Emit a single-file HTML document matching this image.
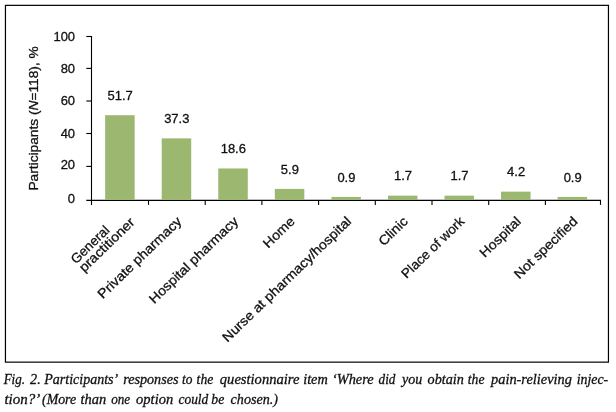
<!DOCTYPE html>
<html><head><meta charset="utf-8"><title>Fig. 2</title>
<style>
html,body{margin:0;padding:0;background:#fff;}
body{width:616px;height:412px;overflow:hidden;position:relative;}
svg{position:absolute;left:0;top:0;}
svg text{font-family:"Liberation Sans",sans-serif;fill:#111;stroke:#111;stroke-width:0.3;}
svg text.c{font-family:"Liberation Serif",serif;font-style:italic;font-size:14px;fill:#111;stroke-width:0.3;}
</style></head><body>
<svg width="616" height="412" viewBox="0 0 616 412">
<rect x="5.45" y="5.35" width="603.0" height="356.8" fill="none" stroke="#000" stroke-width="1.2"/>

<path d="M91.5 36V204.9M86.3 200.4H601" fill="none" stroke="#000" stroke-width="1.1"/>
<path d="M86.3 166.4H91.5" stroke="#000" stroke-width="1.1"/>
<path d="M86.3 133.5H91.5" stroke="#000" stroke-width="1.1"/>
<path d="M86.3 101H91.5" stroke="#000" stroke-width="1.1"/>
<path d="M86.3 68.4H91.5" stroke="#000" stroke-width="1.1"/>
<path d="M86.3 36.5H91.5" stroke="#000" stroke-width="1.1"/>
<text x="67.87" y="202.70" font-size="13.2" textLength="7.23" lengthAdjust="spacingAndGlyphs">0</text>
<text x="60.66" y="169.30" font-size="13.2" textLength="14.44" lengthAdjust="spacingAndGlyphs">20</text>
<text x="60.66" y="137.60" font-size="13.2" textLength="14.44" lengthAdjust="spacingAndGlyphs">40</text>
<text x="60.66" y="105.20" font-size="13.2" textLength="14.44" lengthAdjust="spacingAndGlyphs">60</text>
<text x="60.66" y="73.40" font-size="13.2" textLength="14.44" lengthAdjust="spacingAndGlyphs">80</text>
<text x="53.45" y="41.40" font-size="13.2" textLength="21.65" lengthAdjust="spacingAndGlyphs">100</text>
<path d="M148.50 200.4V204.9" stroke="#000" stroke-width="1.1"/>
<path d="M205.20 200.4V204.9" stroke="#000" stroke-width="1.1"/>
<path d="M261.90 200.4V204.9" stroke="#000" stroke-width="1.1"/>
<path d="M318.60 200.4V204.9" stroke="#000" stroke-width="1.1"/>
<path d="M375.30 200.4V204.9" stroke="#000" stroke-width="1.1"/>
<path d="M432.00 200.4V204.9" stroke="#000" stroke-width="1.1"/>
<path d="M488.70 200.4V204.9" stroke="#000" stroke-width="1.1"/>
<path d="M545.40 200.4V204.9" stroke="#000" stroke-width="1.1"/>
<path d="M600.50 200.4V204.9" stroke="#000" stroke-width="1.1"/>
<rect x="105.15" y="115.21" width="29.5" height="84.69" fill="#9bb770"/>
<text x="107.57" y="100.01" font-size="13.2" textLength="25.26" lengthAdjust="spacingAndGlyphs">51.7</text>
<rect x="161.71" y="138.38" width="29.5" height="61.52" fill="#9bb770"/>
<text x="164.13" y="123.18" font-size="13.2" textLength="25.26" lengthAdjust="spacingAndGlyphs">37.3</text>
<rect x="218.27" y="168.47" width="29.5" height="31.43" fill="#9bb770"/>
<text x="220.69" y="153.27" font-size="13.2" textLength="25.26" lengthAdjust="spacingAndGlyphs">18.6</text>
<rect x="274.83" y="188.91" width="29.5" height="10.99" fill="#9bb770"/>
<text x="280.86" y="173.71" font-size="13.2" textLength="18.05" lengthAdjust="spacingAndGlyphs">5.9</text>
<rect x="331.39" y="196.95" width="29.5" height="2.95" fill="#9bb770"/>
<text x="337.42" y="181.75" font-size="13.2" textLength="18.05" lengthAdjust="spacingAndGlyphs">0.9</text>
<rect x="387.95" y="195.66" width="29.5" height="4.24" fill="#9bb770"/>
<text x="393.98" y="180.46" font-size="13.2" textLength="18.05" lengthAdjust="spacingAndGlyphs">1.7</text>
<rect x="444.51" y="195.66" width="29.5" height="4.24" fill="#9bb770"/>
<text x="450.54" y="180.46" font-size="13.2" textLength="18.05" lengthAdjust="spacingAndGlyphs">1.7</text>
<rect x="501.07" y="191.64" width="29.5" height="8.26" fill="#9bb770"/>
<text x="507.10" y="176.44" font-size="13.2" textLength="18.05" lengthAdjust="spacingAndGlyphs">4.2</text>
<rect x="557.63" y="196.95" width="29.5" height="2.95" fill="#9bb770"/>
<text x="563.66" y="181.75" font-size="13.2" textLength="18.05" lengthAdjust="spacingAndGlyphs">0.9</text>
<text transform="translate(102.80 299.23) rotate(-44)" font-size="13.2" textLength="110.74" lengthAdjust="spacingAndGlyphs">Private pharmacy</text>
<text transform="translate(154.24 304.17) rotate(-44)" font-size="13.2" textLength="117.86" lengthAdjust="spacingAndGlyphs">Hospital pharmacy</text>
<text transform="translate(268.28 248.67) rotate(-44)" font-size="13.2" textLength="37.96" lengthAdjust="spacingAndGlyphs">Home</text>
<text transform="translate(227.53 342.63) rotate(-44)" font-size="13.2" textLength="173.23" lengthAdjust="spacingAndGlyphs">Nurse at pharmacy/hospital</text>
<text transform="translate(383.66 246.48) rotate(-44)" font-size="13.2" textLength="34.80" lengthAdjust="spacingAndGlyphs">Clinic</text>
<text transform="translate(406.54 279.01) rotate(-44)" font-size="13.2" textLength="81.64" lengthAdjust="spacingAndGlyphs">Place of work</text>
<text transform="translate(484.84 258.02) rotate(-44)" font-size="13.2" textLength="51.41" lengthAdjust="spacingAndGlyphs">Hospital</text>
<text transform="translate(519.20 279.45) rotate(-44)" font-size="13.2" textLength="82.28" lengthAdjust="spacingAndGlyphs">Not specified</text>
<text transform="translate(84.14 272.80) rotate(-44)" font-size="13.2" textLength="71.40" lengthAdjust="spacingAndGlyphs">practitioner</text>
<text transform="translate(75.92 264.40) rotate(-44)" font-size="13.2" textLength="47.80" lengthAdjust="spacingAndGlyphs">General</text>
<text transform="translate(37.8 190.6) rotate(-90)" font-size="13.2" textLength="144.4" lengthAdjust="spacingAndGlyphs">Participants (<tspan font-style="italic">N</tspan>=118), %</text>
<text class="c" y="383.7"><tspan x="3.67" textLength="21.35" lengthAdjust="spacingAndGlyphs">Fig.</tspan> <tspan x="30.05" textLength="10.62" lengthAdjust="spacingAndGlyphs">2.</tspan> <tspan x="44.25" textLength="72.39" lengthAdjust="spacingAndGlyphs">Participants’</tspan> <tspan x="123.19" textLength="55.32" lengthAdjust="spacingAndGlyphs">responses</tspan> <tspan x="182.02" textLength="10.40" lengthAdjust="spacingAndGlyphs">to</tspan> <tspan x="196.62" textLength="16.68" lengthAdjust="spacingAndGlyphs">the</tspan> <tspan x="219.83" textLength="79.55" lengthAdjust="spacingAndGlyphs">questionnaire</tspan> <tspan x="303.18" textLength="24.55" lengthAdjust="spacingAndGlyphs">item</tspan> <tspan x="331.93" textLength="41.70" lengthAdjust="spacingAndGlyphs">‘Where</tspan> <tspan x="378.58" textLength="16.85" lengthAdjust="spacingAndGlyphs">did</tspan> <tspan x="402.00" textLength="20.22" lengthAdjust="spacingAndGlyphs">you</tspan> <tspan x="427.62" textLength="36.24" lengthAdjust="spacingAndGlyphs">obtain</tspan> <tspan x="467.83" textLength="16.68" lengthAdjust="spacingAndGlyphs">the</tspan> <tspan x="491.02" textLength="80.87" lengthAdjust="spacingAndGlyphs">pain-relieving</tspan> <tspan x="576.66" textLength="31.57" lengthAdjust="spacingAndGlyphs">injec-</tspan></text>
<text class="c" y="404.2"><tspan x="4.43" textLength="34.18" lengthAdjust="spacingAndGlyphs">tion?’</tspan> <tspan x="42.03" textLength="34.11" lengthAdjust="spacingAndGlyphs">(More</tspan> <tspan x="80.44" textLength="25.70" lengthAdjust="spacingAndGlyphs">than</tspan> <tspan x="111.20" textLength="19.01" lengthAdjust="spacingAndGlyphs">one</tspan> <tspan x="136.12" textLength="37.06" lengthAdjust="spacingAndGlyphs">option</tspan> <tspan x="178.47" textLength="29.85" lengthAdjust="spacingAndGlyphs">could</tspan> <tspan x="211.30" textLength="12.94" lengthAdjust="spacingAndGlyphs">be</tspan> <tspan x="230.57" textLength="47.40" lengthAdjust="spacingAndGlyphs">chosen.)</tspan></text>
</svg>
</body></html>
